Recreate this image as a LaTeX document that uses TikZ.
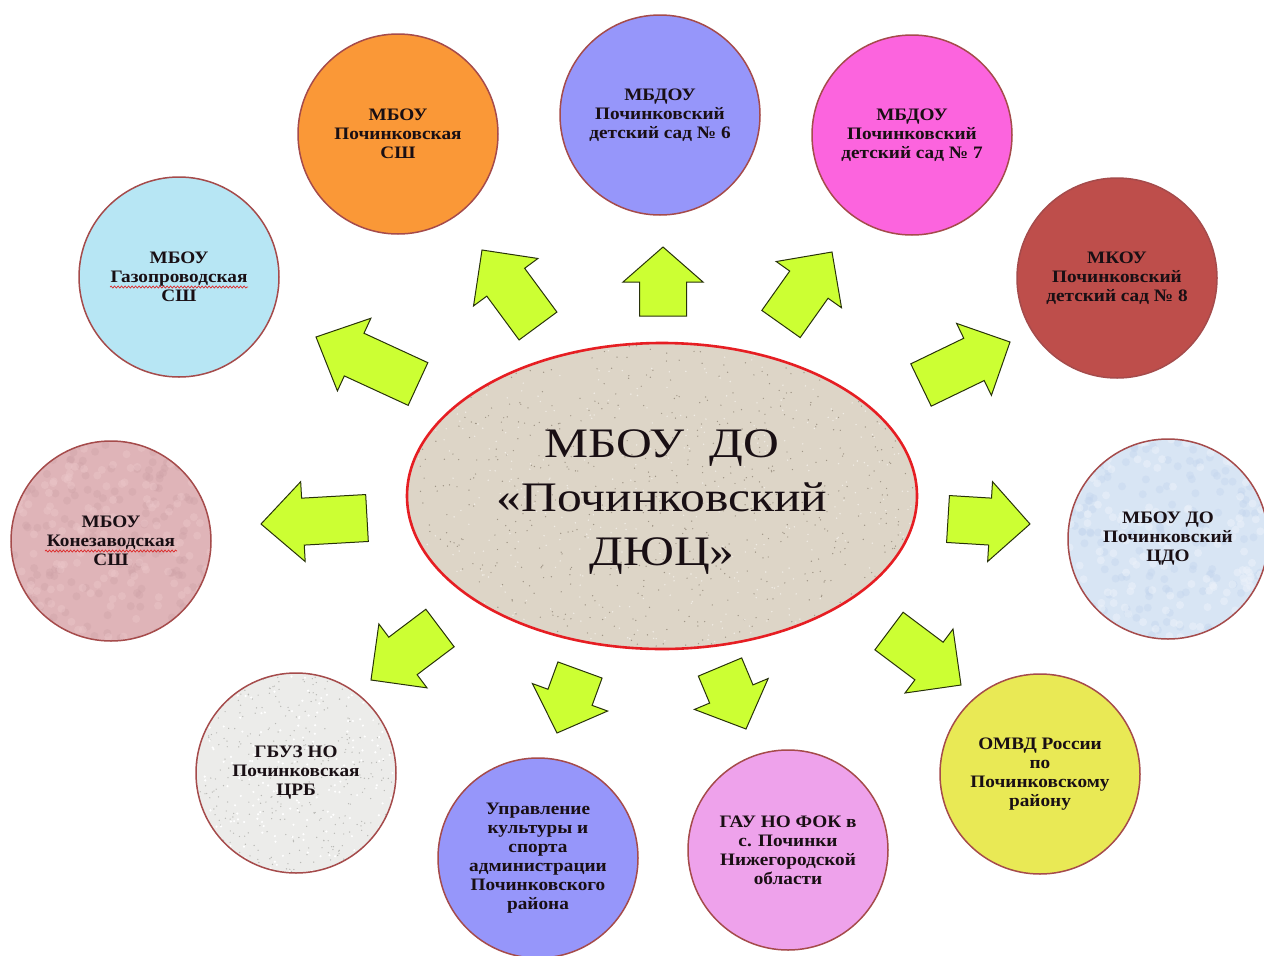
\documentclass[tikz,border=0pt]{standalone}
\usepackage{fontspec}
\setmainfont{Liberation Serif}
\newfontfamily\smallf[FakeStretch=1.1]{Liberation Serif}
\newfontfamily\bigf[FakeStretch=1.18]{Liberation Serif}
\usetikzlibrary{shapes.geometric,calc,decorations.pathmorphing}
\definecolor{cOrange}{RGB}{250,152,55}
\definecolor{cLav}{RGB}{150,150,250}
\definecolor{cMag}{RGB}{252,100,222}
\definecolor{cBrick}{RGB}{190,78,75}
\definecolor{cCyan}{RGB}{183,230,244}
\definecolor{cRose}{RGB}{223,180,184}
\definecolor{cIce}{RGB}{216,229,244}
\definecolor{cGray}{RGB}{236,236,234}
\definecolor{cOrchid}{RGB}{238,162,235}
\definecolor{cYellow}{RGB}{233,233,85}
\definecolor{circborder}{RGB}{165,75,75}
\definecolor{centerfill}{RGB}{221,213,199}
\definecolor{centerline}{RGB}{230,30,35}
\definecolor{arrowfill}{RGB}{204,255,51}
\definecolor{arrowline}{RGB}{40,50,10}
\definecolor{textdark}{RGB}{25,15,20}
\definecolor{spellred}{RGB}{220,40,40}
\definecolor{speckDark}{RGB}{160,150,135}
\definecolor{speckLight}{RGB}{240,236,228}
\definecolor{speckGray}{RGB}{185,185,182}
\definecolor{roseDark}{RGB}{205,160,166}
\definecolor{roseLight}{RGB}{236,200,203}
\definecolor{iceDark}{RGB}{195,213,238}
\definecolor{iceLight}{RGB}{236,242,250}
\newcommand{\myarrow}[3]{%
  \coordinate (hb) at ($(#2)!#3pt!(#1)$);
  \draw[arrowshape] ($(#1)!23.5pt!90:(#2)$) -- ($(hb)!23.5pt!-90:(#1)$) -- ($(hb)!40pt!-90:(#1)$) -- (#2)
    -- ($(hb)!40pt!90:(#1)$) -- ($(hb)!23.5pt!90:(#1)$) -- ($(#1)!23.5pt!-90:(#2)$) -- cycle;}
\newcommand{\speckles}[5]{% count, radius x, radius y, dot size, colour
  \foreach \i in {1,...,#1}{%
    \fill[#5] ($(path picture bounding box.center)+({rand*#2pt},{rand*#3pt})$) circle (#4pt);}}
\begin{document}
\begin{tikzpicture}[x=1pt,y=-1pt,
  org/.style={circle, minimum size=200pt, inner sep=0pt, draw=circborder, line width=1.5pt,
    align=center, font=\smallf\bfseries\fontsize{17.5}{19}\selectfont, text=textdark},
  hubshape/.style={ellipse, minimum width=510pt, minimum height=306pt, inner sep=0pt,
    draw=centerline, line width=2.6pt, fill=centerfill},
  hubtext/.style={align=center, font=\bigf\fontsize{42}{54}\selectfont, text=textdark},
  arrowshape/.style={fill=arrowfill, draw=arrowline, line width=1pt, line join=miter},
  wavy/.style={draw=spellred, line width=0.7pt, decorate,
    decoration={snake, amplitude=1pt, segment length=3.5pt}}]
\pgfmathsetseed{7}
\useasboundingbox (0,0) rectangle (1264,956);
\fill[white] (0,0) rectangle (1264,956);

% central ellipse
\node[hubshape, path picture={\speckles{700}{255}{153}{0.7}{speckDark}\speckles{500}{255}{153}{0.8}{speckLight}}] (hub) at (662,496) {};
\node[hubtext, yshift=-6pt] (hubt) at (hub.center) {МБОУ\ \ ДО\\«Починковский\\ДЮЦ»};

% partner organisations
\node[org, fill=cOrange] (pshs) at (398,134) {МБОУ\\Починковская\\СШ};
\node[org, fill=cLav] (ds6) at (660,115) {МБДОУ\\Починковский\\детский сад № 6};
\node[org, fill=cMag] (ds7) at (912,135) {МБДОУ\\Починковский\\детский сад № 7};
\node[org, fill=cBrick] (ds8) at (1117,278) {МКОУ\\Починковский\\детский сад № 8};
\node[org, fill=cCyan] (gaz) at (179,277) {МБОУ\\Газопроводская\\СШ};
\node[org, fill=cRose, path picture={\speckles{160}{100}{100}{4}{roseDark,opacity=0.35}\speckles{160}{100}{100}{4}{roseLight,opacity=0.4}}] (kon) at (111,541) {МБОУ\\Конезаводская\\СШ};
\node[org, fill=cIce, path picture={\speckles{160}{100}{100}{4}{iceDark,opacity=0.4}\speckles{160}{100}{100}{4}{iceLight,opacity=0.5}}] (cdo) at (1168,539) {МБОУ ДО\\Починковский\\ЦДО};
\node[org, fill=cGray, path picture={\speckles{400}{100}{100}{0.7}{speckGray}\speckles{200}{100}{100}{1.2}{white}}] (crb) at (296,773) {ГБУЗ НО\\Починковская\\ЦРБ};
\node[org, fill=cLav] (upr) at (538,858) {Управление\\культуры и\\спорта\\администрации\\Починковского\\района};
\node[org, fill=cOrchid] (fok) at (788,850) {ГАУ НО ФОК в\\с. Починки\\Нижегородской\\области};
\node[org, fill=cYellow] (omvd) at (1040,774) {ОМВД России\\по\\Починковскому\\району};

% spell-check underlines
\draw[wavy] ($(gaz.center)+(-69,10)$) -- ($(gaz.center)+(69,10)$);
\draw[wavy] ($(kon.center)+(-66,10)$) -- ($(kon.center)+(66,10)$);

% block arrows (tail, tip)
\coordinate (t1) at (538,326);  \coordinate (p1) at (482,250);
\coordinate (t2) at (663,316);  \coordinate (p2) at (663,247);
\coordinate (t3) at (781,324);  \coordinate (p3) at (832,252);
\coordinate (t4) at (921,385);  \coordinate (p4) at (1010,342);
\coordinate (t5) at (418,384);  \coordinate (p5) at (316,337);
\coordinate (t6) at (367,518);  \coordinate (p6) at (261,524);
\coordinate (t7) at (948,519);  \coordinate (p7) at (1030,524);
\coordinate (t8) at (889,631);  \coordinate (p8) at (961,685);
\coordinate (t9) at (720,667);  \coordinate (p9) at (746,729);
\coordinate (t10) at (580,670); \coordinate (p10) at (557,733);
\coordinate (t11) at (440,628); \coordinate (p11) at (371,680);
\myarrow{t1}{p1}{40}
\myarrow{t2}{p2}{35}
\myarrow{t3}{p3}{40}
\myarrow{t4}{p4}{40}
\myarrow{t5}{p5}{42}
\myarrow{t6}{p6}{42}
\myarrow{t7}{p7}{40}
\myarrow{t8}{p8}{40}
\myarrow{t9}{p9}{38}
\myarrow{t10}{p10}{38}
\myarrow{t11}{p11}{40}
\end{tikzpicture}
\end{document}
